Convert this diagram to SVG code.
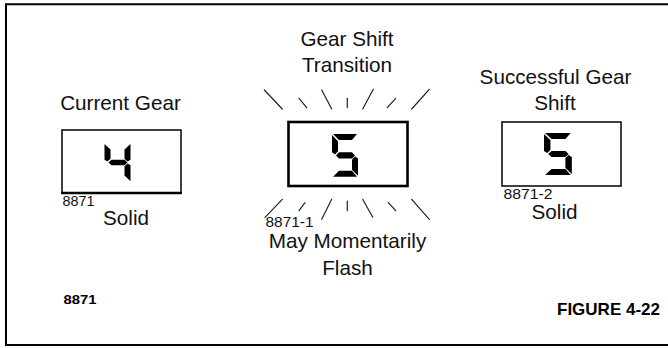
<svg xmlns="http://www.w3.org/2000/svg" width="668" height="348" viewBox="0 0 668 348">
<defs>
<style>
.t{font-family:"Liberation Sans",Arial,sans-serif;font-size:20.7px;fill:#111;text-anchor:middle}
.s{font-family:"Liberation Sans",Arial,sans-serif;font-size:14px;fill:#111}
.b{font-family:"Liberation Sans",Arial,sans-serif;font-weight:bold;fill:#000}
.box{fill:#fff;stroke:#000}
.ray{stroke:#222;stroke-width:1.2;fill:none;stroke-linecap:round}
.seg{fill:#000}
</style>
<g id="d5">
<path class="seg" d="M1,0 L25,0 L20,6 L7,6 Z"/>
<path class="seg" d="M0,1 L6,7 L6,17 L3,20 L0,18 Z"/>
<path class="seg" d="M4,21 L7,18 L20,18 L23,21 L20,24 L7,24 Z"/>
<path class="seg" d="M26,24 L26,41 L20,35 L20,25 L23,22 Z"/>
<path class="seg" d="M1,42 L7,36 L20,36 L25,42 Z"/>
</g>
<g id="d4">
<path class="seg" d="M0,1 L6,7 L6,17 L3,20 L0,18 Z"/>
<path class="seg" d="M4,21 L7,18 L20,18 L23,21 L20,24 L7,24 Z"/>
<path class="seg" d="M26,1 L26,18 L23,20 L20,17 L20,7 Z"/>
<path class="seg" d="M26,24 L26,41 L20,35 L20,25 L23,22 Z"/>
</g>
</defs>
<rect width="668" height="348" fill="#fff"/>
<path d="M668,4.2 H6 V345 H668" fill="none" stroke="#000" stroke-width="2"/>

<g id="current-gear">
<text class="t" x="120.5" y="110">Current Gear</text>
<rect class="box" x="62" y="130" width="119" height="63" stroke-width="1.5"/>
<line x1="61.3" y1="193" x2="181.7" y2="193" stroke="#000" stroke-width="2.5"/>
<use href="#d4" transform="translate(104.5,143) scale(1,0.93)"/>
<text class="s" x="62.5" y="205.5" textLength="32" lengthAdjust="spacingAndGlyphs">8871</text>
<text class="t" x="126" y="224.5">Solid</text>
</g>

<g id="gear-shift-transition">
<text class="t" x="347" y="46">Gear Shift</text>
<text class="t" x="347" y="72">Transition</text>
<g class="ray">
<line x1="264.3" y1="90" x2="282.3" y2="109"/>
<line x1="299" y1="98.3" x2="306.7" y2="107.7"/>
<line x1="321.7" y1="90" x2="331.7" y2="109"/>
<line x1="347.3" y1="98.3" x2="347.3" y2="107.7"/>
<line x1="373.3" y1="89.3" x2="362.7" y2="109"/>
<line x1="395.7" y1="98.3" x2="387.3" y2="107.7"/>
<line x1="429.3" y1="89.3" x2="411.7" y2="109"/>
<line x1="282.3" y1="199.3" x2="265" y2="217.3"/>
<line x1="305" y1="202.7" x2="299" y2="210.7"/>
<line x1="331.7" y1="199.3" x2="321.7" y2="219.3"/>
<line x1="347.3" y1="201" x2="347.3" y2="210.7"/>
<line x1="362.7" y1="199.3" x2="372.7" y2="217.3"/>
<line x1="388.3" y1="202.7" x2="395.7" y2="210.7"/>
<line x1="411.7" y1="199.3" x2="429.3" y2="219.3"/>
</g>
<rect class="box" x="288.5" y="122" width="119" height="64" stroke-width="2.6"/>
<use href="#d5" transform="translate(332,134) scale(1,1.02)"/>
<text class="s" x="265.5" y="227" textLength="48" lengthAdjust="spacingAndGlyphs">8871-1</text>
<text class="t" x="347.5" y="248">May Momentarily</text>
<text class="t" x="347.5" y="275">Flash</text>
</g>

<g id="successful-gear-shift">
<text class="t" x="555.5" y="83.5">Successful Gear</text>
<text class="t" x="555" y="110">Shift</text>
<rect class="box" x="502" y="122" width="119" height="64" stroke-width="1.5"/>
<use href="#d5" transform="translate(544,133) scale(1.07,1)"/>
<text class="s" x="503.5" y="199" textLength="49" lengthAdjust="spacingAndGlyphs">8871-2</text>
<text class="t" x="554.5" y="218.5">Solid</text>
</g>

<text class="b" x="63.5" y="303.5" font-size="12" textLength="33" lengthAdjust="spacingAndGlyphs">8871</text>
<text class="b" x="660" y="315" font-size="17" text-anchor="end">FIGURE 4-22</text>
</svg>
